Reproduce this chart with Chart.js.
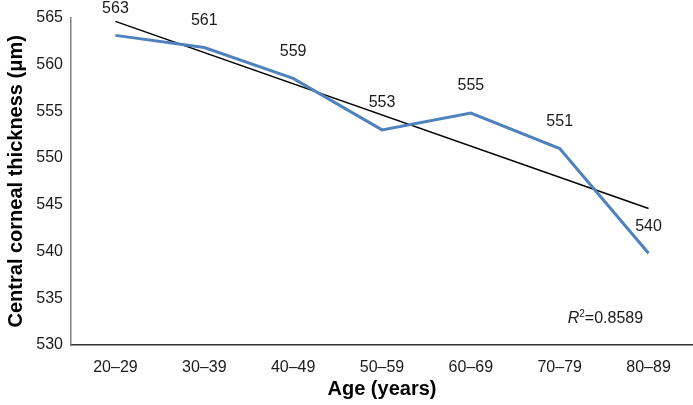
<!DOCTYPE html>
<html>
<head>
<meta charset="utf-8">
<script src="https://cdn.jsdelivr.net/npm/chart.js@4"></script>
<style>
  html, body { margin: 0; padding: 0; background: #fff; }
  #wrap { width: 693px; height: 405px; }
</style>
</head>
<body>
<div id="wrap"><canvas id="c"></canvas></div>
<script>
const categories = ['20–29', '30–39', '40–49', '50–59', '60–69', '70–79', '80–89'];
const thickness = [563.1, 561.8, 558.5, 553.0, 554.8, 551.0, 539.8];
const pointLabels = ['563', '561', '559', '553', '555', '551', '540'];
const trend = [564.6, null, null, null, null, null, 544.6];
const rSquared = '0.8589';
const yTicks = { min: 530, max: 565, step: 5 };

const FONT = "'Liberation Sans', Arial, sans-serif";

const labelPlugin = {
  id: 'pointLabels',
  afterDatasetsDraw(chart) {
    const ctx = chart.ctx;
    const meta = chart.getDatasetMeta(0);
    ctx.save();
    ctx.font = '16px ' + FONT;
    ctx.fillStyle = '#1a1a1a';
    ctx.textAlign = 'center';
    ctx.textBaseline = 'middle';
    meta.data.forEach((pt, i) => {
      ctx.fillText(pointLabels[i], pt.x, pt.y - 27);
    });
    // R squared annotation
    const xs = chart.scales.x, ys = chart.scales.y;
    let x = xs.getPixelForValue(5) + 8;
    const y = ys.getPixelForValue(532.8);
    ctx.textAlign = 'left';
    ctx.font = 'italic 16px ' + FONT;
    ctx.fillText('R', x, y);
    x += ctx.measureText('R').width;
    ctx.font = '10px ' + FONT;
    ctx.fillText('2', x, y - 5);
    x += ctx.measureText('2').width;
    ctx.font = '16px ' + FONT;
    ctx.fillText('=' + rSquared, x, y);
    ctx.restore();
  }
};

new Chart(document.getElementById('c'), {
  type: 'line',
  data: {
    labels: categories,
    datasets: [
      {
        data: thickness,
        borderColor: '#4F81BD',
        borderWidth: 3,
        pointRadius: 0,
        tension: 0,
        fill: false
      },
      {
        data: trend,
        borderColor: '#000000',
        borderWidth: 1.5,
        pointRadius: 0,
        spanGaps: true,
        tension: 0,
        fill: false
      }
    ]
  },
  options: {
    responsive: true,
    maintainAspectRatio: false,
    animation: false,
    layout: { padding: { top: 15, right: -6, left: 0, bottom: 0 } },
    plugins: {
      legend: { display: false },
      tooltip: { enabled: false }
    },
    scales: {
      x: {
        offset: true,
        grid: { display: false, drawTicks: false },
        border: { display: true, color: '#333', width: 1.5 },
        ticks: { color: '#1a1a1a', font: { family: FONT, size: 16 }, padding: 13, maxRotation: 0 },
        title: { display: true, text: 'Age (years)', color: '#000', font: { family: FONT, size: 20, weight: 'bold' }, padding: { top: 7 } },
        afterFit(s) { s.height = 60; }
      },
      y: {
        min: yTicks.min,
        max: yTicks.max,
        grid: { display: false, drawTicks: false },
        border: { display: true, color: '#7f7f7f', width: 1.5 },
        ticks: { stepSize: yTicks.step, color: '#1a1a1a', font: { family: FONT, size: 16 }, padding: 8 },
        title: { display: true, text: 'Central corneal thickness (μm)', color: '#000', font: { family: FONT, size: 20, weight: 'bold' }, padding: { bottom: 3 } },
        afterFit(s) { s.width = 71; }
      }
    }
  },
  plugins: [labelPlugin]
});
</script>
</body>
</html>
